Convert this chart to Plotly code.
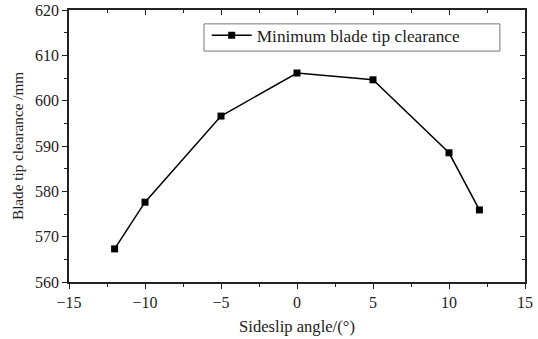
import plotly.graph_objects as go

sideslip = [-12, -10, -5, 0, 5, 10, 12]
clearance = [567.3, 577.6, 596.6, 606.1, 604.6, 588.5, 575.9]
series_name = "Minimum blade tip clearance"

FONT = "Liberation Serif, Times New Roman, serif"

fig = go.Figure()
fig.add_trace(go.Scatter(
    x=sideslip, y=clearance, mode="lines+markers", name=series_name,
    line=dict(color="black", width=1.5),
    marker=dict(symbol="square", size=7, color="black"),
))
# invisible trace to activate mirror axes
fig.add_trace(go.Scatter(x=[None], y=[None], xaxis="x2", yaxis="y2", showlegend=False))

# legend frame
fig.add_shape(type="rect", xref="paper", yref="paper",
              x0=0.296, x1=0.945, y0=0.849, y1=0.949,
              line=dict(color="#777", width=1), fillcolor="rgba(0,0,0,0)", layer="above")

fig.update_layout(
    width=538, height=339,
    margin=dict(l=69, r=13, t=10, b=57),
    paper_bgcolor="white", plot_bgcolor="white",
    font=dict(family=FONT, size=16, color="#222"),
    xaxis=dict(
        range=[-15, 15], tickvals=[-15, -10, -5, 0, 5, 10, 15],
        ticktext=["\u221215", "\u221210", "\u22125", "0", "5", "10", "15"],
        ticks="outside", ticklen=5, tickwidth=1, tickcolor="#222",
        minor=dict(dtick=2.5, ticks="outside", ticklen=3, tickcolor="#222"),
        showline=True, linecolor="#222", linewidth=1.5, showgrid=False, zeroline=False,
        title=dict(text="Sideslip angle/(\u00b0)", font=dict(size=16.6), standoff=10),
        tickfont=dict(size=16), automargin=False,
    ),
    yaxis=dict(
        range=[560, 620], dtick=10,
        ticks="outside", ticklen=5, tickwidth=1, tickcolor="#222",
        minor=dict(dtick=5, ticks="outside", ticklen=3, tickcolor="#222"),
        showline=True, linecolor="#222", linewidth=1.5, showgrid=False, zeroline=False,
        title=dict(text="Blade tip clearance /mm", font=dict(size=15.2), standoff=8),
        tickfont=dict(size=16), automargin=False,
    ),
    xaxis2=dict(
        overlaying="x", side="top", range=[-15, 15], dtick=5,
        ticks="inside", ticklen=5, tickcolor="#222", showticklabels=False,
        minor=dict(dtick=2.5, ticks="inside", ticklen=3, tickcolor="#222"),
        showline=True, linecolor="#222", linewidth=1.5, showgrid=False, zeroline=False,
        automargin=False,
    ),
    yaxis2=dict(
        overlaying="y", side="right", range=[560, 620], dtick=10,
        ticks="inside", ticklen=5, tickcolor="#222", showticklabels=False,
        minor=dict(dtick=5, ticks="inside", ticklen=3, tickcolor="#222"),
        showline=True, linecolor="#222", linewidth=1.5, showgrid=False, zeroline=False,
        automargin=False,
    ),
    legend=dict(
        x=0.302, y=0.972, xanchor="left", yanchor="top",
        borderwidth=0, bgcolor="rgba(0,0,0,0)",
        font=dict(size=17.3), itemwidth=40,
    ),
    showlegend=True,
)

fig.write_html("out.html")
